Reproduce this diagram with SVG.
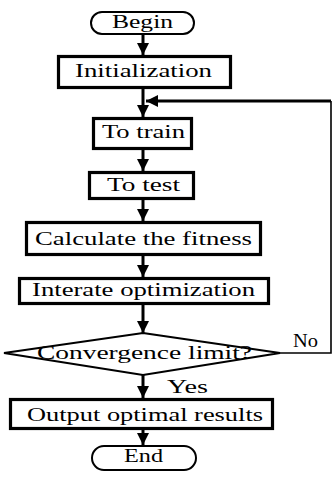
<svg xmlns="http://www.w3.org/2000/svg" width="332" height="477" viewBox="0 0 332 477">
<style>
.box{fill:#fff;stroke:#000;stroke-width:3.2}
.term{fill:#fff;stroke:#000;stroke-width:2}
.dia{fill:#fff;stroke:#000;stroke-width:2}
.lbl{font-family:"Liberation Serif","Times New Roman",serif;font-size:19px;fill:#000}
.conn{fill:none;stroke:#000;stroke-width:3}
.thin{fill:none;stroke:#000;stroke-width:1.6}
</style>
<defs>
<marker id="ah" markerUnits="userSpaceOnUse" markerWidth="14" markerHeight="12" refX="12" refY="6" orient="auto">
<path d="M0,0 L12,6 L0,12 Z" fill="#000"/>
</marker>
</defs>
<g id="connectors">
<line class="conn" x1="143" y1="33" x2="143" y2="55" marker-end="url(#ah)"/>
<line class="conn" x1="143" y1="88" x2="143" y2="117" marker-end="url(#ah)"/>
<line class="conn" x1="143" y1="149" x2="143" y2="171" marker-end="url(#ah)"/>
<line class="conn" x1="143" y1="199" x2="143" y2="221" marker-end="url(#ah)"/>
<line class="conn" x1="143" y1="255" x2="143" y2="277" marker-end="url(#ah)"/>
<line class="conn" x1="143" y1="304" x2="143" y2="333" marker-end="url(#ah)"/>
<line class="conn" x1="143" y1="375" x2="143" y2="398" marker-end="url(#ah)"/>
<line class="conn" x1="143" y1="430" x2="143" y2="445" marker-end="url(#ah)"/>
<polyline class="thin" points="280,353 331,353 331,101"/>
<line class="conn" x1="331" y1="101" x2="146" y2="101" marker-end="url(#ah)"/>
<text class="lbl" x="293" y="347" textLength="25" lengthAdjust="spacingAndGlyphs">No</text>
<text class="lbl" x="167" y="393" textLength="41" lengthAdjust="spacingAndGlyphs">Yes</text>
</g>
<g id="begin">
<rect class="term" x="91" y="12" width="103" height="22" rx="11" ry="11"/>
<text class="lbl" x="112" y="28" textLength="61" lengthAdjust="spacingAndGlyphs">Begin</text>
</g>
<g id="init">
<rect class="box" x="58.5" y="56.5" width="172" height="31"/>
<text class="lbl" x="75" y="77" textLength="137" lengthAdjust="spacingAndGlyphs">Initialization</text>
</g>
<g id="train">
<rect class="box" x="93.5" y="118.5" width="98" height="30"/>
<text class="lbl" x="102" y="138" textLength="83" lengthAdjust="spacingAndGlyphs">To train</text>
</g>
<g id="test">
<rect class="box" x="89.5" y="172.5" width="104" height="26"/>
<text class="lbl" x="107" y="191" textLength="73" lengthAdjust="spacingAndGlyphs">To test</text>
</g>
<g id="fitness">
<rect class="box" x="26.5" y="222.5" width="234" height="32"/>
<text class="lbl" x="35" y="245" textLength="217" lengthAdjust="spacingAndGlyphs">Calculate the fitness</text>
</g>
<g id="iterate">
<rect class="box" x="19.5" y="278.5" width="249" height="25"/>
<text class="lbl" x="32" y="296" textLength="223" lengthAdjust="spacingAndGlyphs">Interate optimization</text>
</g>
<g id="convergence">
<polygon class="dia" points="143,333 280,353 143,375 4,353"/>
<text class="lbl" x="37" y="359" textLength="215" lengthAdjust="spacingAndGlyphs">Convergence limit?</text>
</g>
<g id="output">
<rect class="box" x="10.5" y="399.5" width="262" height="29"/>
<text class="lbl" x="27" y="421" textLength="236" lengthAdjust="spacingAndGlyphs">Output optimal results</text>
</g>
<g id="end">
<rect class="term" x="92" y="446" width="104" height="24" rx="12" ry="12"/>
<text class="lbl" x="124" y="462" textLength="39" lengthAdjust="spacingAndGlyphs">End</text>
</g>
</svg>
